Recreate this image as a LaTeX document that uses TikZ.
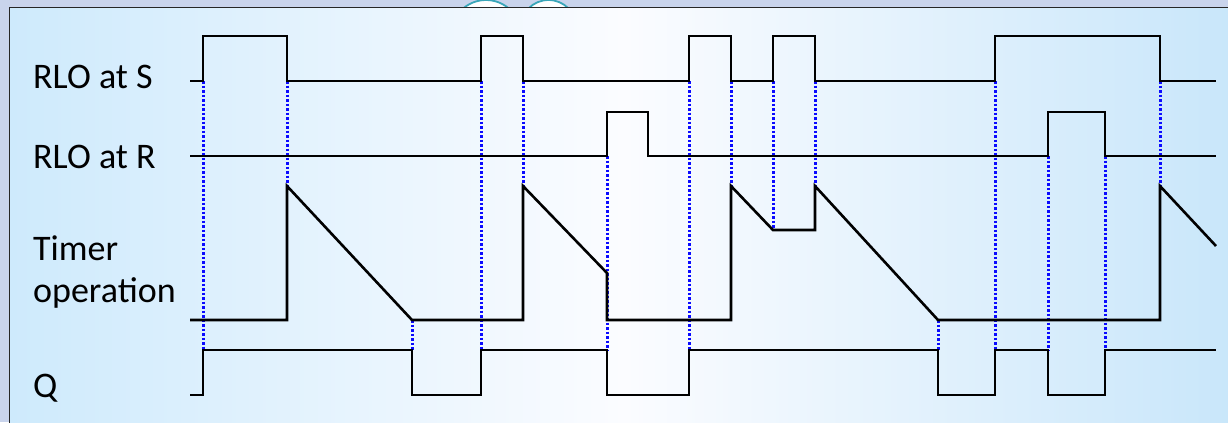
\documentclass[tikz,border=0pt]{standalone}
\usepackage{fontspec}
\setmainfont{Carlito}
\definecolor{outerbg}{RGB}{201,212,236}
\definecolor{panelside}{RGB}{206,234,252}
\definecolor{panelright}{RGB}{200,230,250}
\definecolor{panelmid}{RGB}{251,252,255}
\definecolor{logoteal}{RGB}{58,166,185}
\definecolor{guideblue}{RGB}{10,10,255}
\tikzset{
  signal/.style={line width=2.6bp, black, line join=miter, line cap=butt},
  guide/.style={guideblue, line width=3bp, dash pattern=on 2.5bp off 2bp},
  lbl/.style={anchor=base west, inner sep=0pt, font=\fontsize{36bp}{42bp}\selectfont}
}
\begin{document}
\begin{tikzpicture}[x=1bp, y=-1bp]
\useasboundingbox (0,0) rectangle (1228,422);
% slide background and the logo circles peeking above the panel
\fill[outerbg] (0,0) rectangle (1228,422);
\draw[logoteal, fill=white, line width=1.8bp] (486,35) circle (35);
\draw[logoteal, fill=white, line width=1.8bp] (548.5,28) circle (28);
% gradient panel
\shade[left color=panelside, right color=panelright, middle color=panelmid]
  (9.5,7.5) rectangle (1240,440);
\draw[line width=1.8bp, black!85] (9.5,440) -- (9.5,7.5) -- (1240,7.5);

% signal labels
\node[lbl] (lS) at (33,88) {RLO at S};
\node[lbl] (lR) at (33,168) {RLO at R};
\node[lbl] (lT1) at (33,260) {Timer};
\node[lbl] (lT2) at (33,302) {operation};
\node[lbl] (lQ) at (33,397) {Q};

% dotted guide lines at the switching instants
\foreach \x/\a/\b in {203/81/350, 287/81/186, 412/320/350, 481/81/350,
    523/81/186, 607/156/350, 689/81/350, 731/81/186, 773/81/230,
    815/81/186, 938/320/350, 995/81/350, 1048/156/350, 1105/156/350,
    1160/81/186}
  \draw[guide] (\x,\a) -- (\x,\b);

% RLO at S
\draw[signal] (190,81) -- (203,81) -- (203,36) -- (287,36) -- (287,81)
  -- (481,81) -- (481,36) -- (523,36) -- (523,81)
  -- (689,81) -- (689,36) -- (731,36) -- (731,81)
  -- (773,81) -- (773,36) -- (815,36) -- (815,81)
  -- (995,81) -- (995,36) -- (1160,36) -- (1160,81) -- (1216,81);
% RLO at R
\draw[signal] (190,156) -- (607,156) -- (607,112) -- (648,112) -- (648,156)
  -- (1048,156) -- (1048,112) -- (1105,112) -- (1105,156) -- (1216,156);
% timer value
\draw[signal] (190,320) -- (287,320) -- (287,186) -- (412,320)
  -- (523,320) -- (523,186) -- (607,273) -- (607,320)
  -- (731,320) -- (731,186) -- (773,230) -- (815,230) -- (815,186)
  -- (938,320) -- (1160,320) -- (1160,186) -- (1216,246);
% output Q
\draw[signal] (190,395) -- (203,395) -- (203,350) -- (412,350) -- (412,395)
  -- (481,395) -- (481,350) -- (607,350) -- (607,395)
  -- (689,395) -- (689,350) -- (938,350) -- (938,395)
  -- (995,395) -- (995,350) -- (1048,350) -- (1048,395)
  -- (1105,395) -- (1105,350) -- (1216,350);
\end{tikzpicture}
\end{document}
